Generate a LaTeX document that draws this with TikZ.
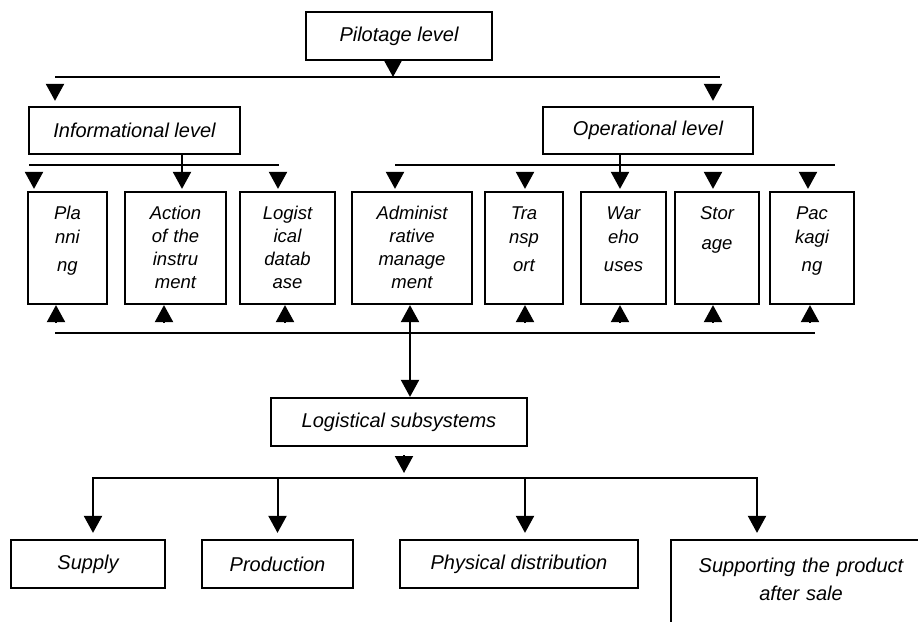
\documentclass[tikz,border=0pt]{standalone}
\usepackage{fontspec}
\setmainfont{Liberation Sans}
\usepackage{tikz}
\usetikzlibrary{arrows.meta,positioning,calc}

\begin{document}
\begin{tikzpicture}[x=1pt,y=-1pt,
  box/.style={draw,line width=2.2pt,inner sep=0pt,align=center,font=\fontsize{20}{24}\selectfont\itshape},
  col/.style={draw,line width=2.2pt,text width=#1,inner xsep=1pt,inner ysep=0pt,align=center,text height=27pt,text depth=85pt,font=\fontsize{18.5}{23}\selectfont\itshape},
  ln/.style={line width=2pt},
  tri/.style={ln,-{Triangle[length=17pt,width=18pt]}},
  dbl/.style={ln,{Triangle[length=17pt,width=18pt]}-{Triangle[length=17pt,width=18pt]}},
  flt/.style={shorten <=8pt}]
  \useasboundingbox (0,0) rectangle (918,621);
  \clip (0,0) rectangle (918,621);

  % levels
  \node[box,minimum width=186pt,minimum height=48pt] (pil) at (399,36) {Pilotage level};
  \node[box,minimum width=211pt,minimum height=47pt] (info) at (134.5,130.5) {Informational level};
  \node[box,minimum width=210pt,minimum height=47pt] (oper) at (648,130.5) {Operational level};

  % functions
  \node[col=77pt] (plan) at (67.5,248) {Pla\\[1pt]nni\\[5pt]ng};
  \node[col=99pt] (act) at (175.5,248) {Action\\of the\\instru\\ment};
  \node[col=93pt] (logi) at (287.5,248) {Logist\\ical\\datab\\ase};
  \node[col=118pt] (adm) at (412,248) {Administ\\rative\\manage\\ment};
  \node[col=76pt] (trans) at (524,248) {Tra\\[1pt]nsp\\[5pt]ort};
  \node[col=83pt] (ware) at (623.5,248) {War\\[1pt]eho\\[5pt]uses};
  \node[col=82pt] (stor) at (717,248) {Stor\\[7pt]age};
  \node[col=82pt] (pack) at (812,248) {Pac\\[1pt]kagi\\[5pt]ng};

  % subsystems
  \node[box,minimum width=256pt,minimum height=48pt] (ls) at (399,422) {Logistical subsystems};
  \node[box,minimum width=154pt,minimum height=48pt] (sup) at (88,564) {Supply};
  \node[box,minimum width=151pt,minimum height=48pt] (prod) at (277.5,564) {Production};
  \node[box,minimum width=238pt,minimum height=48pt] (phys) at (519,564) {Physical distribution};
  \node[box,text width=260pt,text height=32pt,text depth=98pt,font=\fontsize{20}{28}\selectfont\itshape] (supp) at (801,605) {Supporting the product\\after sale};

  \coordinate (b1a) at (55,77);   \coordinate (b1b) at (720,77);
  \coordinate (b2a) at (29,165);  \coordinate (b2b) at (279,165);
  \coordinate (b2c) at (395,165); \coordinate (b2d) at (835,165);
  \coordinate (b3a) at (55,333);  \coordinate (b3b) at (815,333);
  \coordinate (b4) at (404,478);

  % pilotage -> levels
  \draw[tri] ([xshift=-6pt]pil.south) -- ([xshift=-6pt]pil.south |- b1a);
  \draw[ln] (b1a) -- (b1b);
  \draw[tri,flt,shorten >=5pt] (b1a) -- (b1a |- info.north);
  \draw[tri,flt,shorten >=5pt] ([xshift=65pt]oper.north |- b1b) -- ([xshift=65pt]oper.north);

  % levels -> functions
  \draw[ln] (b2a) -- (b2b);
  \draw[ln] (b2c) -- (b2d);
  \draw[tri,shorten >=2pt] ([xshift=6.5pt]act.north |- info.south) -- ([xshift=6.5pt]act.north);
  \draw[tri,shorten >=2pt] ([xshift=-3.5pt]ware.north |- oper.south) -- ([xshift=-3.5pt]ware.north);
  \foreach \n/\d in {plan/-33.5,logi/-9.5,adm/-17,trans/1,stor/-4,pack/-4}
    \draw[tri,flt,shorten >=2pt] ([xshift=\d pt]\n.north |- b2a) -- ([xshift=\d pt]\n.north);

  % feedback
  \draw[ln] (b3a) -- (b3b);
  \foreach \n/\d in {plan/-11.5,act/-11.5,logi/-2.5,trans/1,ware/-3.5,stor/-4,pack/-2}
    \draw[tri,shorten <=10pt] ([xshift=\d pt]\n.south |- b3a) -- ([xshift=\d pt]\n.south);
  \draw[dbl] ([xshift=-2pt]adm.south) -- ([xshift=-2pt]adm.south |- ls.north);

  % subsystems
  \draw[tri,flt,shorten >=5pt] ([xshift=5pt]ls.south) -- ([xshift=5pt]ls.south |- b4);
  \draw[dbl,shorten <=6pt,shorten >=6pt] ([xshift=5pt]sup.north) |- (b4) -| ([xshift=-44pt]supp.north);
  \draw[tri,shorten >=6pt] (prod.north |- b4) -- (prod.north);
  \draw[tri,shorten >=6pt] ([xshift=6pt]phys.north |- b4) -- ([xshift=6pt]phys.north);
\end{tikzpicture}
\end{document}
